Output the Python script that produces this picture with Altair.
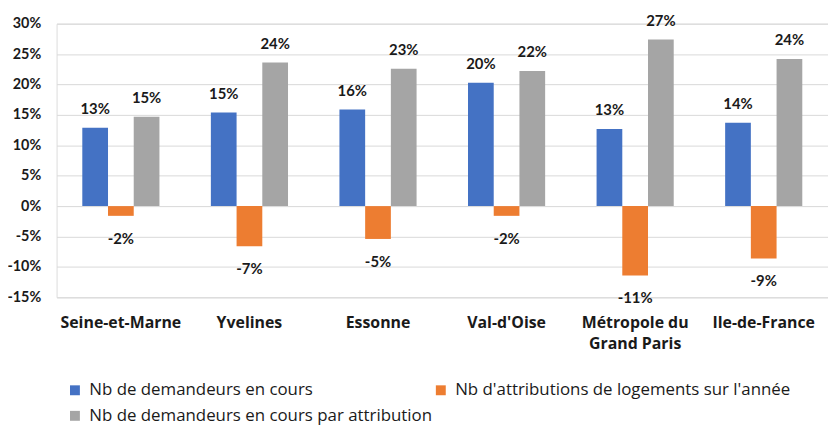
import altair as alt
import pandas as pd

categories = ["Seine-et-Marne", "Yvelines", "Essonne", "Val-d'Oise",
              "Métropole du Grand Paris", "Ile-de-France"]
series_names = ["Nb de demandeurs en cours",
                "Nb d'attributions de logements sur l'année",
                "Nb de demandeurs en cours par attribution"]
demandeurs = [12.9, 15.4, 15.9, 20.3, 12.7, 13.7]
attributions = [-1.6, -6.6, -5.4, -1.6, -11.4, -8.6]
par_attribution = [14.7, 23.6, 22.6, 22.2, 27.4, 24.2]
colors = ["#4472C4", "#ED7D31", "#A5A5A5"]
y_ticks = [-15, -10, -5, 0, 5, 10, 15, 20, 25, 30]

rows = []
for name, vals in zip(series_names, [demandeurs, attributions, par_attribution]):
    for c, v in zip(categories, vals):
        rows.append({"cat": c, "serie": name, "v": v})
df = pd.DataFrame(rows)

NUMFONT = "Lato"
TXTFONT = "Open Sans"

x = alt.X("cat:N", sort=categories, title=None,
          scale=alt.Scale(paddingInner=0.4, paddingOuter=0.2),
          axis=alt.Axis(ticks=False, domain=False, labelAngle=0, labelPadding=25,
                        labelFont=TXTFONT, labelFontSize=16, labelFontWeight="bold",
                        labelColor="#1a1a1a", labelLineHeight=22,
                        labelBaseline="middle",
                        labelExpr="datum.value == 'Métropole du Grand Paris' ? ['Métropole du', 'Grand Paris'] : datum.label"))
xo = alt.XOffset("serie:N", sort=series_names)

bars = alt.Chart(df).mark_bar().encode(
    x=x,
    xOffset=xo,
    y=alt.Y("v:Q", title=None,
            scale=alt.Scale(domain=[-15, 30], nice=False, zero=True),
            axis=alt.Axis(values=y_ticks, tickCount=20, ticks=False, domain=False,
                          labelPadding=16, labelOverlap=False, labelFlush=False,
                          labelFont=NUMFONT, labelFontSize=14.5, labelFontWeight="bold",
                          labelColor="#1a1a1a", gridColor="#d9d9d9",
                          labelExpr="datum.value + '%'")),
    color=alt.Color("serie:N", sort=series_names,
                    scale=alt.Scale(domain=series_names, range=colors),
                    legend=alt.Legend(title=None, orient="none", legendX=10, legendY=361,
                                      direction="horizontal", columns=2,
                                      symbolType="square", symbolSize=100,
                                      symbolStrokeWidth=0, labelOffset=6,
                                      labelFont=TXTFONT, labelFontSize=17,
                                      labelColor="#1a1a1a", labelLimit=500,
                                      columnPadding=0, rowPadding=8)),
)

base_text = alt.Chart(df).transform_calculate(
    lab="round(datum.v) + '%'"
)
pos_text = base_text.transform_filter("datum.v >= 0").mark_text(
    baseline="middle", dy=-19, font=NUMFONT, fontSize=15, fontWeight="bold", color="#1a1a1a"
).encode(x=x, xOffset=xo, y="v:Q", text="lab:N")
neg_text = base_text.transform_filter("datum.v < 0").mark_text(
    baseline="middle", dy=23, font=NUMFONT, fontSize=15, fontWeight="bold", color="#1a1a1a"
).encode(x=x, xOffset=xo, y="v:Q", text="lab:N")

chart = alt.layer(bars, pos_text, neg_text).properties(
    width=778, height=276,
    autosize=alt.AutoSizeParams(type="none"),
    padding={"left": 49, "top": 14, "right": 0, "bottom": 132},
).configure_view(stroke=None).configure(background="white")

chart.save("out.html", embed_options={"renderer": "svg", "actions": False})
